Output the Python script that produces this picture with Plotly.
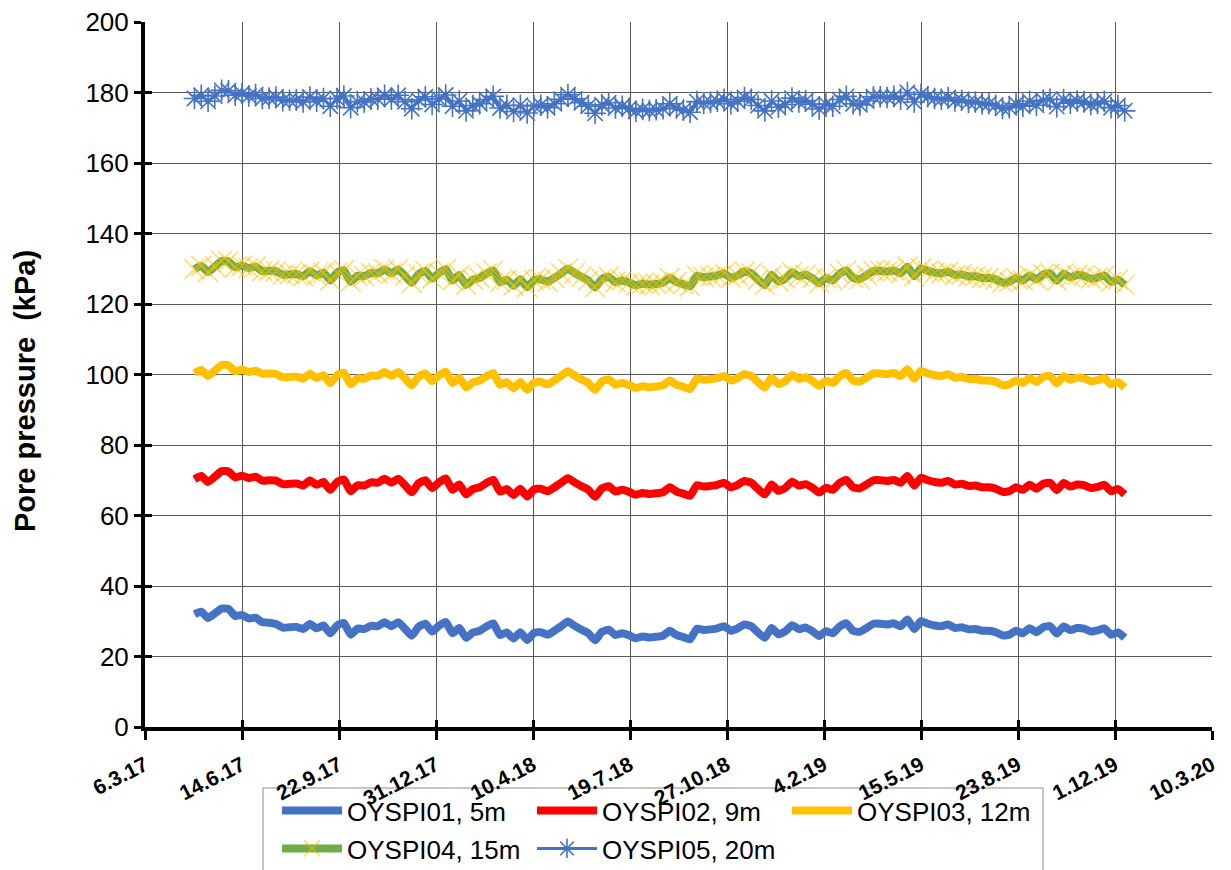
import pandas as pd
import plotly.graph_objects as go

# ---------------- data (weekly samples) ----------------
start_date = "2017-04-26"
n_points = 138
dates = pd.date_range(start_date, periods=n_points, freq="7D")

oyspi01_5m = [
    32.0, 32.7, 30.9, 32.2, 33.6, 33.5, 31.5, 31.8, 30.8, 31.0,
    29.7, 29.6, 29.2, 28.2, 28.3, 28.4, 27.8, 29.2, 28.0, 28.8,
    26.6, 28.8, 29.5, 26.2, 27.9, 27.8, 28.7, 28.6, 29.7, 28.6,
    29.7, 27.9, 25.9, 28.4, 29.3, 27.1, 28.7, 29.8, 26.6, 28.1,
    25.3, 26.8, 27.3, 28.5, 29.4, 26.1, 26.8, 25.1, 26.9, 24.7,
    26.7, 26.9, 26.2, 27.3, 28.6, 29.9, 28.7, 27.6, 26.6, 24.6,
    27.0, 27.6, 26.1, 26.6, 26.0, 25.2, 25.7, 25.4, 25.6, 25.9,
    27.3, 26.1, 25.5, 24.9, 27.9, 27.5, 27.7, 28.0, 28.6, 27.3,
    28.0, 29.1, 28.6, 26.8, 25.3, 28.1, 26.3, 27.1, 28.9, 27.8,
    28.2, 27.2, 25.8, 27.2, 26.6, 28.5, 29.4, 27.3, 27.0, 28.1,
    29.3, 29.3, 29.1, 29.4, 28.6, 30.5, 27.8, 30.0, 29.3, 28.8,
    28.6, 29.1, 28.1, 28.3, 27.7, 27.8, 27.3, 27.3, 26.9, 26.0,
    26.2, 27.3, 26.6, 28.0, 26.9, 28.3, 28.6, 26.5, 28.5, 27.5,
    28.1, 27.9, 27.1, 27.4, 28.0, 26.2, 26.8, 25.3,
]
oyspi02_9m = [
    70.3, 71.2, 69.5, 71.0, 72.6, 72.5, 70.8, 71.3, 70.6, 71.0,
    69.9, 70.0, 69.9, 68.9, 69.0, 69.1, 68.5, 69.9, 68.7, 69.5,
    67.3, 69.5, 70.2, 66.9, 68.6, 68.5, 69.4, 69.3, 70.4, 69.3,
    70.4, 68.6, 66.6, 69.1, 70.0, 67.8, 69.4, 70.5, 67.3, 68.8,
    66.0, 67.5, 68.0, 69.2, 70.1, 66.8, 67.5, 65.8, 67.6, 65.4,
    67.4, 67.6, 66.9, 68.0, 69.3, 70.6, 69.4, 68.3, 67.3, 65.3,
    67.7, 68.3, 66.8, 67.3, 66.7, 65.9, 66.4, 66.1, 66.3, 66.6,
    68.0, 66.8, 66.2, 65.6, 68.6, 68.2, 68.4, 68.7, 69.3, 68.0,
    68.7, 69.8, 69.3, 67.5, 66.0, 68.8, 67.0, 67.8, 69.6, 68.5,
    68.9, 67.9, 66.5, 67.9, 67.3, 69.2, 70.1, 68.0, 67.7, 68.8,
    70.0, 70.0, 69.8, 70.1, 69.3, 71.2, 68.5, 70.7, 70.0, 69.5,
    69.3, 69.8, 68.8, 69.0, 68.4, 68.5, 68.0, 68.0, 67.6, 66.7,
    66.9, 68.0, 67.3, 68.7, 67.6, 69.0, 69.3, 67.2, 69.2, 68.2,
    68.8, 68.6, 67.8, 68.1, 68.7, 66.9, 67.5, 66.0,
]
oyspi03_12m = [
    100.4, 101.3, 99.6, 101.1, 102.7, 102.6, 100.9, 101.4, 100.7, 101.1,
    100.2, 100.3, 100.2, 99.2, 99.3, 99.4, 98.8, 100.2, 99.0, 99.8,
    97.6, 99.8, 100.5, 97.2, 98.9, 98.8, 99.7, 99.6, 100.7, 99.6,
    100.7, 98.9, 96.9, 99.4, 100.3, 98.1, 99.7, 100.8, 97.6, 99.1,
    96.3, 97.8, 98.3, 99.5, 100.4, 97.1, 97.8, 96.1, 97.9, 95.7,
    97.7, 97.9, 97.2, 98.3, 99.6, 100.9, 99.7, 98.6, 97.6, 95.6,
    98.0, 98.6, 97.1, 97.6, 97.0, 96.2, 96.7, 96.4, 96.6, 96.9,
    98.3, 97.1, 96.5, 95.9, 98.9, 98.5, 98.7, 99.0, 99.6, 98.3,
    99.0, 100.1, 99.6, 97.8, 96.3, 99.1, 97.3, 98.1, 99.9, 98.8,
    99.2, 98.2, 96.8, 98.2, 97.6, 99.5, 100.4, 98.3, 98.0, 99.1,
    100.3, 100.3, 100.1, 100.4, 99.6, 101.5, 98.8, 101.0, 100.3, 99.8,
    99.6, 100.1, 99.1, 99.3, 98.7, 98.8, 98.3, 98.3, 97.9, 97.0,
    97.2, 98.3, 97.6, 99.0, 97.9, 99.3, 99.6, 97.5, 99.5, 98.5,
    99.1, 98.9, 98.1, 98.4, 99.0, 97.2, 97.8, 96.3,
]
oyspi04_15m = [
    129.9, 130.8, 129.1, 130.6, 132.2, 132.1, 130.4, 130.9, 130.2, 130.6,
    129.3, 129.4, 129.3, 128.3, 128.4, 128.5, 127.9, 129.3, 128.1, 128.9,
    126.7, 128.9, 129.6, 126.3, 128.0, 127.9, 128.8, 128.7, 129.8, 128.7,
    129.8, 128.0, 126.0, 128.5, 129.4, 127.2, 128.8, 129.9, 126.7, 128.2,
    125.4, 126.9, 127.4, 128.6, 129.5, 126.2, 126.9, 125.2, 127.0, 124.8,
    126.8, 127.0, 126.3, 127.4, 128.7, 130.0, 128.8, 127.7, 126.7, 124.7,
    127.1, 127.7, 126.2, 126.7, 126.1, 125.3, 125.8, 125.5, 125.7, 126.0,
    127.4, 126.2, 125.6, 125.0, 128.0, 127.6, 127.8, 128.1, 128.7, 127.4,
    128.1, 129.2, 128.7, 126.9, 125.4, 128.2, 126.4, 127.2, 129.0, 127.9,
    128.3, 127.3, 125.9, 127.3, 126.7, 128.6, 129.5, 127.4, 127.1, 128.2,
    129.4, 129.4, 129.2, 129.5, 128.7, 130.6, 127.9, 130.1, 129.4, 128.9,
    128.7, 129.2, 128.2, 128.4, 127.8, 127.9, 127.4, 127.4, 127.0, 126.1,
    126.3, 127.4, 126.7, 128.1, 127.0, 128.4, 128.7, 126.6, 128.6, 127.6,
    128.2, 128.0, 127.2, 127.5, 128.1, 126.3, 126.9, 125.4,
]
oyspi05_20m = [
    178.3, 179.2, 177.5, 179.0, 180.6, 180.5, 179.2, 179.7, 179.0, 179.4,
    178.3, 178.4, 178.7, 177.7, 177.8, 177.9, 177.3, 178.7, 177.5, 178.3,
    176.1, 178.3, 179.0, 175.7, 177.4, 177.3, 178.2, 178.1, 179.2, 178.1,
    179.2, 177.4, 175.4, 177.9, 178.8, 176.6, 178.2, 179.3, 176.1, 177.6,
    174.8, 176.3, 176.8, 178.0, 178.9, 175.6, 176.3, 174.6, 176.4, 174.2,
    176.2, 176.4, 175.7, 176.8, 178.1, 179.4, 178.2, 177.1, 176.1, 174.1,
    176.5, 177.1, 175.6, 176.1, 175.5, 174.7, 175.2, 174.9, 175.1, 175.4,
    176.8, 175.6, 175.0, 174.4, 177.4, 177.0, 177.2, 177.5, 178.1, 176.8,
    177.5, 178.6, 178.1, 176.3, 174.8, 177.6, 175.8, 176.6, 178.4, 177.3,
    177.7, 176.7, 175.3, 176.7, 176.1, 178.0, 178.9, 176.8, 176.5, 177.6,
    178.8, 178.8, 178.6, 178.9, 178.1, 180.0, 177.3, 179.5, 178.8, 178.3,
    178.1, 178.6, 177.6, 177.8, 177.2, 177.3, 176.8, 176.8, 176.4, 175.5,
    175.7, 176.8, 176.1, 177.5, 176.4, 177.8, 178.1, 176.0, 178.0, 177.0,
    177.6, 177.4, 176.6, 176.9, 177.5, 175.7, 176.3, 174.8,
]

x_tick_dates = ["2017-03-06", "2017-06-14", "2017-09-22", "2017-12-31",
                "2018-04-10", "2018-07-19", "2018-10-27", "2019-02-04",
                "2019-05-15", "2019-08-23", "2019-12-01", "2020-03-10"]
x_tick_labels = ["6.3.17", "14.6.17", "22.9.17", "31.12.17", "10.4.18", "19.7.18",
                 "27.10.18", "4.2.19", "15.5.19", "23.8.19", "1.12.19", "10.3.20"]
y_ticks = [0, 20, 40, 60, 80, 100, 120, 140, 160, 180, 200]

# ---------------- figure ----------------
FONT = "Liberation Sans, Arial, sans-serif"
BLUE = "#4472C4"
LW = 8
fig = go.Figure()

fig.add_trace(go.Scatter(x=dates, y=oyspi01_5m, name="OYSPI01, 5m", mode="lines",
                         line=dict(color=BLUE, width=LW, shape="spline", smoothing=0.5),
                         legend="legend"))
fig.add_trace(go.Scatter(x=dates, y=oyspi02_9m, name="OYSPI02, 9m", mode="lines",
                         line=dict(color="#FF0000", width=LW, shape="spline", smoothing=0.5),
                         legend="legend"))
fig.add_trace(go.Scatter(x=dates, y=oyspi03_12m, name="OYSPI03, 12m", mode="lines",
                         line=dict(color="#FFC000", width=LW, shape="spline", smoothing=0.5),
                         legend="legend"))
fig.add_trace(go.Scatter(x=dates, y=oyspi04_15m, name="OYSPI04, 15m", mode="lines+markers",
                         line=dict(color="#70AD47", width=LW, shape="spline", smoothing=0.5),
                         marker=dict(symbol="x-thin-open", size=20, color="rgba(255,192,0,0.55)",
                                     line=dict(color="rgba(255,192,0,0.55)", width=1.6)),
                         legend="legend2"))
fig.add_trace(go.Scatter(x=dates, y=oyspi05_20m, name="OYSPI05, 20m", mode="lines+markers",
                         line=dict(color=BLUE, width=3),
                         marker=dict(symbol="asterisk-open", size=18, color=BLUE,
                                     line=dict(color=BLUE, width=1.6)),
                         legend="legend2"))

grid = "#5a5a5a"
leg_font = dict(family=FONT, size=26, color="black")
fig.update_layout(
    width=1231, height=870,
    margin=dict(l=145, r=19, t=22, b=143, autoexpand=False),
    paper_bgcolor="white", plot_bgcolor="white",
    font=dict(family=FONT, color="black"),
    xaxis=dict(type="date", range=["2017-03-06", "2020-03-10"], automargin=False,
               tickmode="array", tickvals=x_tick_dates, ticktext=x_tick_labels,
               tickangle=-27, tickfont=dict(family=FONT, size=21, color="black", weight="bold"),
               ticklabelstandoff=5,
               showgrid=True, gridcolor=grid, gridwidth=1,
               showline=True, linecolor="black", linewidth=4,
               ticks="outside", ticklen=9, tickwidth=3, tickcolor="black", zeroline=False),
    yaxis=dict(range=[0, 200], tickmode="array", tickvals=y_ticks, automargin=False,
               tickfont=dict(family=FONT, size=26, color="black"),
               showgrid=True, gridcolor=grid, gridwidth=1,
               showline=True, linecolor="black", linewidth=4,
               ticks="outside", ticklen=7, tickwidth=3, tickcolor="black", zeroline=False),
    xaxis2=dict(type="date", range=["2017-03-06", "2020-03-10"], overlaying="x",
                tickmode="array", tickvals=x_tick_dates, showticklabels=False,
                showgrid=False, zeroline=False, ticks="inside", ticklen=7, tickwidth=3,
                tickcolor="black", side="bottom", automargin=False),
    yaxis2=dict(range=[0, 200], overlaying="y", tickmode="array", tickvals=y_ticks,
                showticklabels=False, showgrid=False, zeroline=False, ticks="inside",
                ticklen=7, tickwidth=3, tickcolor="black", side="left", automargin=False),
    legend=dict(orientation="h", x=(277 - 145) / 1067, y=(870 - 787) / 870,
                xanchor="left", yanchor="top", yref="container",
                font=leg_font, itemwidth=60,
                entrywidth=180, entrywidthmode="pixels",
                bgcolor="rgba(0,0,0,0)", borderwidth=0),
    legend2=dict(orientation="h", x=(277 - 145) / 1067, y=(870 - 825) / 870,
                 xanchor="left", yanchor="top", yref="container",
                 font=leg_font, itemwidth=60,
                 entrywidth=180, entrywidthmode="pixels",
                 bgcolor="rgba(0,0,0,0)", borderwidth=0),
    shapes=[dict(type="rect", xref="paper", yref="paper",
                 x0=(263 - 145) / 1067, x1=(1043 - 145) / 1067,
                 y0=(727 - 890) / 705, y1=(727 - 788) / 705,
                 line=dict(color="#8c8c8c", width=1), fillcolor="white", layer="below")],
    annotations=[dict(text="<b>Pore pressure  (kPa)</b>", xref="paper", yref="paper",
                      x=(25 - 145) / 1067, y=(727 - 391) / 705, xanchor="center",
                      yanchor="middle", textangle=-90, showarrow=False,
                      font=dict(family=FONT, size=29, color="black"))],
    showlegend=True,
)
# anchor trace so the overlay axes (inner tick halves) are drawn
fig.add_trace(go.Scatter(x=[dates[0]], y=[None], xaxis="x2", yaxis="y2",
                         showlegend=False, hoverinfo="skip"))

fig.write_html("out.html")
